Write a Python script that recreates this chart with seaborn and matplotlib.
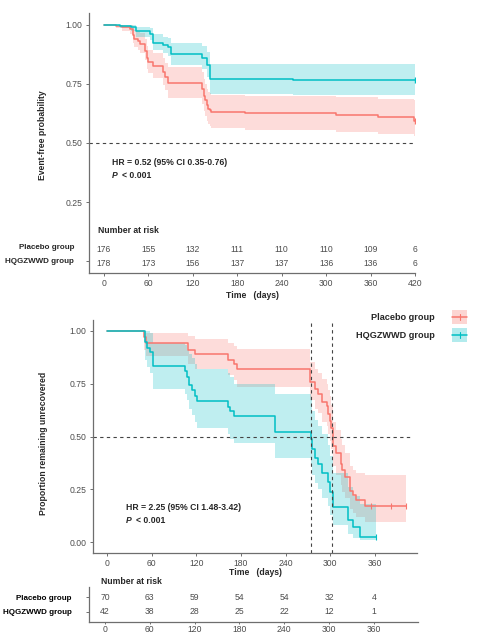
import numpy as np
import pandas as pd
import matplotlib
matplotlib.use("Agg")
import matplotlib.pyplot as plt
from matplotlib.patches import Rectangle
from matplotlib.lines import Line2D
import matplotlib.transforms as mtrans
import seaborn as sns

# ---------------- data ----------------
groups = ["Placebo group", "HQGZWWD group"]

# Panel A: event-free probability
a_plc_t  = [0, 17, 24, 35, 39, 41, 46, 49, 55, 58, 60, 66, 80, 82, 87, 132, 135, 137, 139, 141, 143, 145, 190, 314, 370, 418, 420]
a_plc_s  = [1.0, .995, .99, .983, .955, .94, .93, .918, .89, .86, .842, .825, .80, .78, .755, .73, .70, .68, .66, .645, .638, .632, .626, .618, .61, .595, .595]
a_plc_lo = [1.0, .985, .975, .96, .925, .905, .895, .88, .85, .815, .795, .775, .745, .725, .692, .665, .635, .615, .595, .58, .57, .562, .556, .548, .54, .53, .53]
a_plc_hi = [1.0, 1.0, 1.0, 1.0, .99, .98, .975, .965, .94, .91, .895, .88, .86, .84, .82, .80, .77, .75, .73, .715, .71, .705, .70, .695, .688, .68, .68]

a_hq_t  = [0, 22, 37, 44, 62, 66, 80, 87, 90, 132, 139, 143, 256, 420]
a_hq_s  = [1.0, .995, .99, .972, .96, .925, .915, .905, .877, .86, .83, .77, .765, .765]
a_hq_lo = [1.0, .985, .975, .95, .935, .895, .88, .87, .828, .815, .78, .709, .703, .703]
a_hq_hi = [1.0, 1.0, 1.0, .99, .985, .96, .95, .945, .925, .91, .885, .835, .833, .833]

a_risk_times = [0, 60, 120, 180, 240, 300, 360, 420]
a_risk_plc = [176, 155, 132, 111, 110, 110, 109, 6]
a_risk_hq  = [178, 173, 156, 137, 137, 136, 136, 6]

# Panel B: proportion remaining unrecovered
b_plc_t  = [0, 49, 52, 109, 118, 163, 170, 175, 273, 280, 284, 289, 295, 297, 300, 301.5, 303, 304, 307, 314, 316, 320, 327, 331, 334, 347, 402]
b_plc_s  = [1.0, .97, .943, .91, .89, .86, .84, .82, .756, .722, .70, .665, .646, .608, .575, .538, .50, .457, .42, .372, .34, .308, .245, .222, .198, .171, .171]
b_plc_lo = [1.0, .91, .88, .84, .82, .79, .765, .735, .67, .63, .61, .57, .55, .51, .48, .44, .41, .36, .32, .27, .24, .21, .16, .14, .12, .096, .096]
b_plc_hi = [1.0, 1.0, .99, .975, .96, .94, .925, .913, .85, .82, .80, .77, .75, .72, .69, .65, .62, .57, .53, .49, .46, .42, .36, .34, .33, .316, .316]

b_hq_t  = [0, 51, 54, 58, 62, 105, 108, 110, 114, 118, 121, 163, 165, 170, 226, 274, 275, 276, 280, 284, 289, 297, 300, 303, 324, 331, 340, 362]
b_hq_s  = [1.0, .945, .92, .90, .833, .81, .78, .745, .72, .69, .667, .64, .62, .595, .52, .49, .46, .443, .40, .37, .33, .284, .237, .167, .104, .072, .025, .025]
b_hq_lo = [1.0, .86, .83, .80, .726, .70, .67, .63, .60, .57, .538, .51, .49, .47, .40, .37, .34, .32, .28, .25, .21, .17, .13, .08, .04, .02, .01, .01]
b_hq_hi = [1.0, 1.0, 1.0, .99, .94, .93, .91, .89, .87, .84, .82, .80, .78, .75, .70, .67, .64, .62, .58, .55, .51, .46, .41, .33, .26, .22, .18, .18]

b_plc_censor = [354, 381, 402]
b_median = [274.5, 302]

b_risk_times = [0, 60, 120, 180, 240, 300, 360]
b_risk_plc = [70, 63, 59, 54, 54, 32, 4]
b_risk_hq  = [42, 38, 28, 25, 22, 12, 1]

# ---------------- style ----------------
sns.set_theme(style="white")
plt.rcParams["font.family"] = ["Liberation Sans", "DejaVu Sans"]
RED = "#F8766D"
TEAL = "#00BFC4"
AXC = "#6E6E6E"
TXC = "#4D4D4D"
FS = 6.2
FSR = 5.8  # row labels

W, H = 482, 634
fig = plt.figure(figsize=(W / 100, H / 100), dpi=100)
fig.patch.set_facecolor("white")


def rect(l, t, r, b):
    return [l / W, 1 - b / H, (r - l) / W, (b - t) / H]


def style_axes(ax):
    for s in ["top", "right"]:
        ax.spines[s].set_visible(False)
    for s in ["left", "bottom"]:
        ax.spines[s].set_color(AXC)
        ax.spines[s].set_linewidth(0.9)
    ax.tick_params(axis="both", which="both", length=2.5, width=0.7, color=AXC,
                   labelsize=FS, labelcolor=TXC, pad=2, direction="out",
                   left=True, bottom=True)
    ax.grid(False)


def km(ax, t, s, lo, hi, color, label):
    df = pd.DataFrame({"t": t, "s": s})
    ax.fill_between(t, lo, hi, step="post", color=color, alpha=0.25, lw=0)
    sns.lineplot(data=df, x="t", y="s", ax=ax, color=color, lw=1.1,
                 drawstyle="steps-post", estimator=None, sort=False, label=label,
                 legend=False)


# ---------------- Panel A ----------------
ax1 = fig.add_axes(rect(89, 13, 415, 273))
km(ax1, a_plc_t, a_plc_s, a_plc_lo, a_plc_hi, RED, groups[0])
km(ax1, a_hq_t, a_hq_s, a_hq_lo, a_hq_hi, TEAL, groups[1])
ax1.plot([a_plc_t[-1]], [a_plc_s[-1]], marker="|", color=RED, ms=4, mew=1)
ax1.plot([a_hq_t[-1]], [a_hq_s[-1]], marker="|", color=TEAL, ms=4, mew=1)
ax1.axhline(0.5, color="#444444", lw=0.8, ls=(0, (3, 3)))
ax1.set_xlim(-20, 420)
ax1.set_ylim(-0.05, 1.05)
ax1.set_xticks(a_risk_times)
ax1.set_yticks([0, 0.25, 0.5, 0.75, 1.0])
ax1.set_yticklabels(["", "0.25", "0.50", "0.75", "1.00"])
style_axes(ax1)
ax1.set_xlabel("Time   (days)", fontsize=FS, fontweight="bold", labelpad=2)
ax1.set_ylabel("Event-free probability", fontsize=FS, fontweight="bold")
ax1.yaxis.set_label_coords(-0.13, 0.53)

ax1.text(10.8, 0.419, "HR = 0.52 (95% CI 0.35-0.76)", fontsize=FS, fontweight="bold",
         va="center", ha="left")
ax1.text(10.8, 0.364, "P", fontsize=FS, fontweight="bold", style="italic", va="center", ha="left")
ax1.annotate("< 0.001", xy=(10.8, 0.364), xytext=(7, 0), textcoords="offset points",
             fontsize=FS, fontweight="bold", va="center", ha="left")
ax1.text(-8, 0.131, "Number at risk", fontsize=FS, fontweight="bold", va="center", ha="left")
for x, n1, n2 in zip(a_risk_times, a_risk_plc, a_risk_hq):
    ax1.text(x, 0.051, str(n1), fontsize=FS, color=TXC, ha="center", va="center")
    ax1.text(x, -0.008, str(n2), fontsize=FS, color=TXC, ha="center", va="center")
bt1 = mtrans.blended_transform_factory(ax1.transAxes, ax1.transData)
ax1.text(-0.046, 0.057, groups[0], transform=bt1, fontsize=FSR, fontweight="bold", ha="right", va="center")
ax1.text(-0.046, 0.0, groups[1], transform=bt1, fontsize=FSR, fontweight="bold", ha="right", va="center")

# ---------------- Panel B ----------------
ax2 = fig.add_axes(rect(93, 320, 417, 553))
km(ax2, b_plc_t, b_plc_s, b_plc_lo, b_plc_hi, RED, groups[0])
km(ax2, b_hq_t, b_hq_s, b_hq_lo, b_hq_hi, TEAL, groups[1])
ax2.plot(b_plc_censor, [b_plc_s[-1]] * len(b_plc_censor), ls="none", marker="|", color=RED, ms=4, mew=0.8)
ax2.plot([b_hq_t[-1]], [b_hq_s[-1]], marker="|", color=TEAL, ms=4, mew=0.8)
ax2.axhline(0.5, xmax=0.985, color="#444444", lw=0.8, ls=(0, (3, 3)))
for m in b_median:
    ax2.axvline(m, color="#444444", lw=0.8, ls=(0, (3, 3)))
ax2.set_xlim(-19, 416.5)
ax2.set_ylim(-0.05, 1.05)
ax2.set_xticks(b_risk_times)
ax2.set_yticks([0, 0.25, 0.5, 0.75, 1.0])
ax2.set_yticklabels(["0.00", "0.25", "0.50", "0.75", "1.00"])
style_axes(ax2)
ax2.set_xlabel("Time   (days)", fontsize=FS, fontweight="bold", labelpad=0)
ax2.set_ylabel("Proportion remaining unrecovered", fontsize=FS, fontweight="bold")
ax2.yaxis.set_label_coords(-0.138, 0.47)
ax2.text(25.5, 0.165, "HR = 2.25 (95% CI 1.48-3.42)", fontsize=FS, fontweight="bold",
         va="center", ha="left")
ax2.text(25.5, 0.104, "P", fontsize=FS, fontweight="bold", style="italic", va="center", ha="left")
ax2.annotate("< 0.001", xy=(25.5, 0.104), xytext=(7, 0), textcoords="offset points",
             fontsize=FS, fontweight="bold", va="center", ha="left")

# legend (drawn in figure pixels)
for i, (lab, col) in enumerate(zip(groups, [RED, TEAL])):
    yc = 317 + 18 * i
    fig.text(435 / W, 1 - yc / H, lab, fontsize=FS + 0.4, fontweight="bold", ha="right", va="center")
    fig.add_artist(Rectangle((452 / W, 1 - (yc + 7) / H), 15 / W, 14 / H,
                             transform=fig.transFigure, facecolor=col, alpha=0.3, lw=0))
    fig.add_artist(Line2D([452 / W, 467 / W], [1 - yc / H, 1 - yc / H],
                          transform=fig.transFigure, color=col, lw=1.1))
    fig.add_artist(Line2D([459.5 / W, 459.5 / W], [1 - (yc - 3) / H, 1 - (yc + 3) / H],
                          transform=fig.transFigure, color=col, lw=0.8))

# ---------------- risk table B ----------------
ax3 = fig.add_axes(rect(89, 587, 418, 622))
ax3.set_xlim(-21.4, 418.9)
ax3.set_ylim(-0.667, 1.667)
for x, n1, n2 in zip(b_risk_times, b_risk_plc, b_risk_hq):
    ax3.text(x, 1, str(n1), fontsize=FS, color=TXC, ha="center", va="center")
    ax3.text(x, 0, str(n2), fontsize=FS, color=TXC, ha="center", va="center")
ax3.set_xticks(b_risk_times)
ax3.set_yticks([1, 0])
ax3.set_yticklabels(groups)
style_axes(ax3)
ax3.tick_params(axis="x", length=1.5, pad=0.5)
ax3.tick_params(axis="y", pad=10, labelsize=FSR)
for lab in ax3.get_yticklabels():
    lab.set_fontweight("bold")
    lab.set_color("black")
fig.text(101 / W, 1 - 581 / H, "Number at risk", fontsize=FS, fontweight="bold", ha="left", va="center")

fig.savefig("out.png", dpi=100, facecolor="white")
